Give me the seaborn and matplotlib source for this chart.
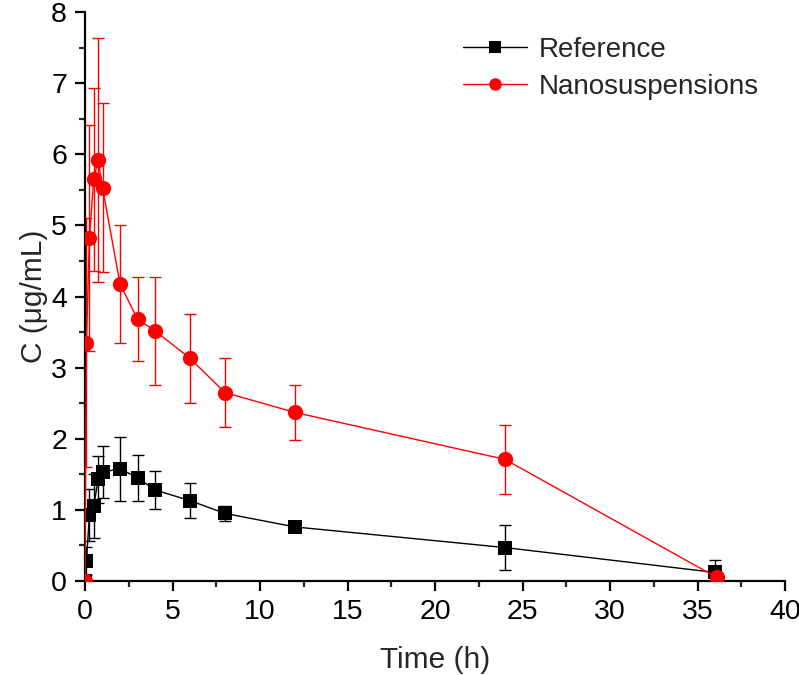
import matplotlib
matplotlib.use("Agg")
import matplotlib.pyplot as plt
import seaborn as sns
import pandas as pd
import numpy as np
from matplotlib.ticker import MultipleLocator

time_ref = [0, 0.083, 0.25, 0.5, 0.75, 1, 2, 3, 4, 6, 8, 12, 24, 36]
conc_ref = [0.0, 0.28, 0.93, 1.05, 1.43, 1.53, 1.58, 1.45, 1.28, 1.13, 0.95, 0.76, 0.47, 0.12]
sd_ref = [0.0, 0.2, 0.37, 0.45, 0.33, 0.37, 0.45, 0.32, 0.27, 0.25, 0.1, 0.05, 0.32, 0.18]

time_nano = [0, 0.083, 0.25, 0.5, 0.75, 1, 2, 3, 4, 6, 8, 12, 24, 36.1]
conc_nano = [0.0, 3.35, 4.82, 5.65, 5.92, 5.53, 4.18, 3.68, 3.52, 3.13, 2.65, 2.37, 1.71, 0.05]
sd_nano = [0.0, 1.75, 1.59, 1.29, 1.71, 1.19, 0.83, 0.59, 0.76, 0.62, 0.48, 0.39, 0.49, 0.03]

labels = ["Reference", "Nanosuspensions"]

sns.set_style("ticks")
plt.rcParams['font.family'] = ['Liberation Sans', 'DejaVu Sans']

df = pd.concat([
    pd.DataFrame({"Time": time_ref, "C": conc_ref, "Group": labels[0]}),
    pd.DataFrame({"Time": time_nano, "C": conc_nano, "Group": labels[1]}),
])

fig = plt.figure(figsize=(7.99, 6.75), dpi=100)
ax = fig.add_axes([0.1064, 0.1393, 0.8761, 0.8427])

colors = {labels[0]: "black", labels[1]: "#ff0000"}
ax.errorbar(time_ref, conc_ref, yerr=sd_ref, fmt="none", ecolor="black",
            elinewidth=1.0, capsize=4.5, capthick=1.0, zorder=2)
ax.errorbar(time_nano, conc_nano, yerr=sd_nano, fmt="none", ecolor="#ff0000",
            elinewidth=1.0, capsize=4.5, capthick=1.0, zorder=2)

sns.lineplot(data=df, x="Time", y="C", hue="Group", style="Group",
             palette=colors, markers={labels[0]: "s", labels[1]: "o"},
             dashes=False, markersize=10, markeredgewidth=0, linewidth=1.0,
             sort=False, ax=ax, zorder=3)
for ln in ax.lines:
    if ln.get_marker() == "o":
        ln.set_markersize(11)
    elif ln.get_marker() == "s":
        ln.set_markersize(9.5)

ax.set_xlim(0, 40)
ax.set_ylim(0, 8)
ax.xaxis.set_major_locator(MultipleLocator(5))
ax.xaxis.set_minor_locator(MultipleLocator(2.5))
ax.yaxis.set_major_locator(MultipleLocator(1))
ax.yaxis.set_minor_locator(MultipleLocator(0.5))

for s in ["top", "right"]:
    ax.spines[s].set_visible(False)
for s in ["left", "bottom"]:
    ax.spines[s].set_linewidth(1.6)
    ax.spines[s].set_color("black")

ax.tick_params(axis="both", which="major", direction="out", length=7, width=1.6,
               labelsize=20.5, colors="black", pad=6)
ax.tick_params(axis="both", which="minor", direction="out", length=4, width=1.6)

ax.set_xlabel("Time (h)", fontsize=21.5, labelpad=15)
ax.set_ylabel("C (\u03bcg/mL)", fontsize=21.5, labelpad=2)

leg = ax.legend(title=None, frameon=False, fontsize=20, loc="upper right",
                bbox_to_anchor=(0.998, 1.0), handlelength=2.3, handletextpad=0.4,
                labelspacing=0.38)
for h in leg.legend_handles:
    h.set_markersize(9)

fig.savefig("out.png", dpi=100)
